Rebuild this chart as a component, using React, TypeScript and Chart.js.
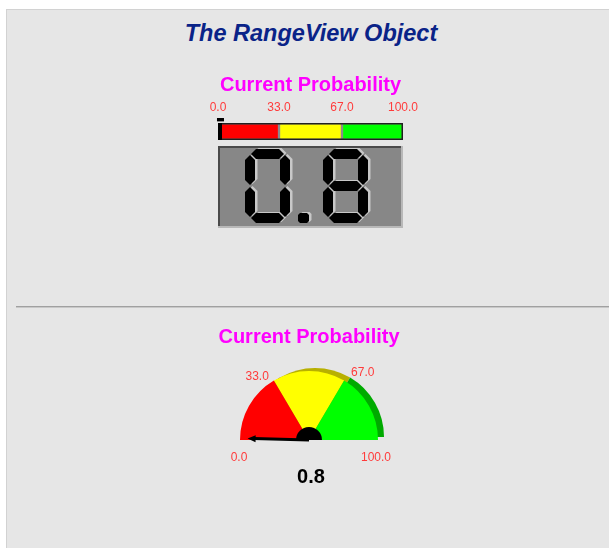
import React, { useEffect, useRef } from "react";
import { Chart, registerables } from "chart.js";

Chart.register(...registerables);

// ---- data ----
const MAIN_TITLE = "The RangeView Object";
const CHART_TITLE = "Current Probability";
const RANGE_LABELS = ["Low", "Medium", "High"];
const RANGE_VALUES = [33, 34, 33];
const RANGE_COLORS = ["#ff0000", "#ffff00", "#00ff00"];
const RANGE_SHADOWS = ["#a80000", "#b8b000", "#00aa00"];
const TICK_VALUES = [0, 33, 67, 100];
const CURRENT_VALUE = 0.8;
const SCALE_MIN = 0;
const SCALE_MAX = 100;

const FONT = "'Liberation Sans', Arial, sans-serif";
const TICK_COLOR = "#ff3b3b";

// seven segment map: a b c d e f g
const SEGMENTS: Record<string, number[]> = {
  "0": [1, 1, 1, 1, 1, 1, 0],
  "1": [0, 1, 1, 0, 0, 0, 0],
  "2": [1, 1, 0, 1, 1, 0, 1],
  "3": [1, 1, 1, 1, 0, 0, 1],
  "4": [0, 1, 1, 0, 0, 1, 1],
  "5": [1, 0, 1, 1, 0, 1, 1],
  "6": [1, 0, 1, 1, 1, 1, 1],
  "7": [1, 1, 1, 0, 0, 0, 0],
  "8": [1, 1, 1, 1, 1, 1, 1],
  "9": [1, 1, 1, 1, 0, 1, 1],
};

function hSeg(ctx: CanvasRenderingContext2D, x1: number, x2: number, y: number, t: number) {
  const h = t / 2;
  ctx.beginPath();
  ctx.moveTo(x1, y);
  ctx.lineTo(x1 + h, y - h);
  ctx.lineTo(x2 - h, y - h);
  ctx.lineTo(x2, y);
  ctx.lineTo(x2 - h, y + h);
  ctx.lineTo(x1 + h, y + h);
  ctx.closePath();
  ctx.fill();
}
function vSeg(ctx: CanvasRenderingContext2D, x: number, y1: number, y2: number, t: number) {
  const h = t / 2;
  ctx.beginPath();
  ctx.moveTo(x, y1);
  ctx.lineTo(x + h, y1 + h);
  ctx.lineTo(x + h, y2 - h);
  ctx.lineTo(x, y2);
  ctx.lineTo(x - h, y2 - h);
  ctx.lineTo(x - h, y1 + h);
  ctx.closePath();
  ctx.fill();
}
function drawDigit(ctx: CanvasRenderingContext2D, ch: string, L: number, T: number, W: number, H: number, t: number) {
  const s = SEGMENTS[ch];
  if (!s) return;
  const g = 1;
  const xl = L + t / 2, xr = L + W - t / 2;
  const yt = T + t / 2, ym = T + H / 2, yb = T + H - t / 2;
  if (s[0]) hSeg(ctx, xl + g, xr - g, yt, t);
  if (s[1]) vSeg(ctx, xr, yt + g, ym - g, t);
  if (s[2]) vSeg(ctx, xr, ym + g, yb - g, t);
  if (s[3]) hSeg(ctx, xl + g, xr - g, yb, t);
  if (s[4]) vSeg(ctx, xl, ym + g, yb - g, t);
  if (s[5]) vSeg(ctx, xl, yt + g, ym - g, t);
  if (s[6]) hSeg(ctx, xl + g, xr - g, ym, t);
}

const barDecor = {
  id: "barDecor",
  afterDatasetsDraw(chart: any) {
    const { ctx, chartArea } = chart;
    const xs = chart.scales.x;
    const L = chartArea.left, R = chartArea.right, T = chartArea.top, B = chartArea.bottom;
    ctx.save();
    // outer frame
    ctx.strokeStyle = "#202020";
    ctx.lineWidth = 1.5;
    ctx.strokeRect(L + 0.75, T + 0.75, R - L - 1.5, B - T - 1.5);
    // indicator
    const px = xs.getPixelForValue(CURRENT_VALUE);
    ctx.fillStyle = "#000";
    ctx.fillRect(L, T, Math.max(px - L, 4), B - T);
    ctx.fillStyle = "#000";
    ctx.fillRect(px - 2.5, T - 5, 7, 3);
    ctx.fillStyle = "#909090";
    ctx.fillRect(px - 2.5, T - 2, 7, 1);

    // digital display
    const bT = B + 6, bH = 82;
    ctx.fillStyle = "#878787";
    ctx.fillRect(L, bT, R - L, bH);
    ctx.fillStyle = "#4a4a4a";
    ctx.fillRect(L, bT, R - L, 2);
    ctx.fillRect(L, bT, 2, bH);
    ctx.fillStyle = "#b8b8b8";
    ctx.fillRect(L, bT + bH - 2, R - L, 2);
    ctx.fillRect(R - 2, bT, 2, bH);

    const text = CURRENT_VALUE.toFixed(1);
    const dW = 45, dH = 74, t = 10, dotW = 11;
    let total = 0;
    for (const ch of text) total += ch === "." ? dotW + 22 : dW;
    let x = (L + R) / 2 - total / 2 - 4;
    const dy = bT + 3;
    const drawAll = (ox: number, oy: number, color: string) => {
      ctx.fillStyle = color;
      let xx = x + ox;
      for (const ch of text) {
        if (ch === ".") {
          const dx = xx + 8;
          const yy = dy + dH - 10 + oy;
          ctx.beginPath();
          ctx.moveTo(dx + 2, yy);
          ctx.lineTo(dx + dotW - 2, yy);
          ctx.lineTo(dx + dotW, yy + 2);
          ctx.lineTo(dx + dotW, yy + 8);
          ctx.lineTo(dx + dotW - 2, yy + 10);
          ctx.lineTo(dx + 2, yy + 10);
          ctx.lineTo(dx, yy + 8);
          ctx.lineTo(dx, yy + 2);
          ctx.closePath();
          ctx.fill();
          xx += dotW + 22;
        } else {
          drawDigit(ctx, ch, xx, dy + oy, dW, dH, t);
          xx += dW;
        }
      }
    };
    drawAll(2.5, -1, "#c8c8c8");
    drawAll(0, 0, "#000000");
    ctx.restore();
  },
};

const gaugeDecor = {
  id: "gaugeDecor",
  beforeDatasetsDraw(chart: any) {
    const { ctx } = chart;
    const meta = chart.getDatasetMeta(0);
    ctx.save();
    meta.data.forEach((arc: any, i: number) => {
      const { x, y, startAngle, endAngle, outerRadius } = arc.getProps(["x", "y", "startAngle", "endAngle", "outerRadius"], true);
      ctx.fillStyle = RANGE_SHADOWS[i];
      ctx.beginPath();
      ctx.moveTo(x + 6, y - 3);
      ctx.arc(x + 6, y - 3, outerRadius, startAngle, endAngle);
      ctx.closePath();
      ctx.fill();
    });
    ctx.restore();
  },
  afterDatasetsDraw(chart: any) {
    const { ctx } = chart;
    const meta = chart.getDatasetMeta(0);
    const arc0 = meta.data[0];
    if (!arc0) return;
    const { x: cx, y: cy, outerRadius: r } = arc0.getProps(["x", "y", "outerRadius"], true);
    const angOf = (v: number) => Math.PI + ((v - SCALE_MIN) / (SCALE_MAX - SCALE_MIN)) * Math.PI;
    ctx.save();
    // tick labels
    ctx.font = `12px ${FONT}`;
    ctx.fillStyle = TICK_COLOR;
    TICK_VALUES.forEach((v) => {
      const a = angOf(v);
      const px = cx + r * Math.cos(a);
      const py = cy + r * Math.sin(a);
      const label = v.toFixed(1);
      if (v === SCALE_MIN || v === SCALE_MAX) {
        ctx.textAlign = "center";
        ctx.textBaseline = "middle";
        ctx.fillText(label, px + (v === SCALE_MAX ? -2 : -1), cy + 18);
      } else if (v < (SCALE_MIN + SCALE_MAX) / 2) {
        ctx.textAlign = "right";
        ctx.textBaseline = "alphabetic";
        ctx.fillText(label, px - 5, py - 1);
      } else {
        ctx.textAlign = "left";
        ctx.textBaseline = "alphabetic";
        ctx.fillText(label, px + 7, py - 5);
      }
    });
    // needle
    const a = angOf(CURRENT_VALUE);
    const len = r * 0.89;
    const tx = cx + len * Math.cos(a);
    const ty = cy + len * Math.sin(a);
    ctx.strokeStyle = "#000";
    ctx.lineWidth = 3;
    ctx.beginPath();
    ctx.moveTo(cx, cy);
    ctx.lineTo(tx - 6 * Math.cos(a), ty - 6 * Math.sin(a));
    ctx.stroke();
    const nx = -Math.sin(a), ny = Math.cos(a);
    ctx.fillStyle = "#000";
    ctx.beginPath();
    ctx.moveTo(tx, ty);
    ctx.lineTo(tx - 8 * Math.cos(a) + 3.5 * nx, ty - 8 * Math.sin(a) + 3.5 * ny);
    ctx.lineTo(tx - 8 * Math.cos(a) - 3.5 * nx, ty - 8 * Math.sin(a) - 3.5 * ny);
    ctx.closePath();
    ctx.fill();
    // hub
    ctx.beginPath();
    ctx.moveTo(cx - 13, cy);
    ctx.arc(cx, cy, 13, Math.PI, 2 * Math.PI);
    ctx.closePath();
    ctx.fill();
    // value
    ctx.font = `bold 20px ${FONT}`;
    ctx.fillStyle = "#000";
    ctx.textAlign = "center";
    ctx.textBaseline = "middle";
    ctx.fillText(CURRENT_VALUE.toFixed(1), cx + 2, cy + 37);
    ctx.restore();
  },
};

const titleOpts = (top: number, bottom: number) => ({
  display: true,
  text: CHART_TITLE,
  color: "#ff00ff",
  font: { family: FONT, size: 20, weight: "bold" as const, lineHeight: 1.2 },
  padding: { top, bottom },
});

export default function App() {
  const barRef = useRef<HTMLCanvasElement | null>(null);
  const gaugeRef = useRef<HTMLCanvasElement | null>(null);

  useEffect(() => {
    const bar = new Chart(barRef.current!, {
      type: "bar",
      data: {
        labels: [CHART_TITLE],
        datasets: RANGE_LABELS.map((l, i) => ({
          label: l,
          data: [RANGE_VALUES[i]],
          backgroundColor: RANGE_COLORS[i],
          borderColor: "#8c8c8c",
          borderWidth: 1.5,
          borderSkipped: false,
          categoryPercentage: 1,
          barPercentage: 1,
        })),
      },
      options: {
        indexAxis: "y",
        animation: false,
        responsive: false,
        maintainAspectRatio: false,
        layout: { padding: { left: 38, right: 37, top: 0, bottom: 95 } },
        plugins: {
          legend: { display: false },
          tooltip: { enabled: false },
          title: titleOpts(3, 3),
        },
        scales: {
          x: {
            type: "linear",
            position: "top",
            stacked: true,
            min: SCALE_MIN,
            max: SCALE_MAX,
            afterBuildTicks: (s: any) => {
              s.ticks = TICK_VALUES.map((v) => ({ value: v }));
            },
            afterFit: (s: any) => {
              s.height = 23;
            },
            grid: { display: false, drawTicks: false },
            border: { display: false },
            ticks: {
              autoSkip: false,
              maxRotation: 0,
              padding: 8,
              color: TICK_COLOR,
              font: { family: FONT, size: 12 },
              callback: (v: any) => Number(v).toFixed(1),
            },
          },
          y: { stacked: true, display: false },
        },
      },
      plugins: [barDecor],
    } as any);

    const gauge = new Chart(gaugeRef.current!, {
      type: "doughnut",
      data: {
        labels: RANGE_LABELS,
        datasets: [
          {
            data: RANGE_VALUES,
            backgroundColor: RANGE_COLORS,
            borderWidth: 0,
          },
        ],
      },
      options: {
        animation: false,
        responsive: false,
        maintainAspectRatio: false,
        rotation: -90,
        circumference: 180,
        cutout: 0,
        layout: { padding: { left: 0, right: 0, top: 0, bottom: 55 } },
        plugins: {
          legend: { display: false },
          tooltip: { enabled: false },
          title: titleOpts(7, 22),
        },
      },
      plugins: [gaugeDecor],
    } as any);

    return () => {
      bar.destroy();
      gauge.destroy();
    };
  }, []);

  return (
    <div style={{ position: "absolute", left: 0, top: 0, width: 609, height: 548, background: "#ffffff", overflow: "hidden" }}>
      <div
        style={{
          position: "absolute",
          left: 6,
          top: 9,
          width: 610,
          height: 545,
          background: "#e6e6e6",
          borderLeft: "1px solid #d2d2d2",
          borderTop: "1px solid #d2d2d2",
        }}
      />
      <div
        style={{
          position: "absolute",
          left: 0,
          top: 20,
          width: 622,
          textAlign: "center",
          fontFamily: FONT,
          fontWeight: "bold",
          fontStyle: "italic",
          fontSize: 23.5,
          lineHeight: "26px",
          color: "#0a2388",
        }}
      >
        {MAIN_TITLE}
      </div>
      <div style={{ position: "absolute", left: 16, top: 306, width: 600, height: 1, background: "#a0a0a0" }} />
      <div style={{ position: "absolute", left: 16, top: 307, width: 600, height: 1, background: "#c8c8c8" }} />
      <canvas
        ref={barRef}
        width={260}
        height={165}
        style={{ position: "absolute", left: 180, top: 70, width: 260, height: 165 }}
      />
      <canvas
        ref={gaugeRef}
        width={260}
        height={177}
        style={{ position: "absolute", left: 179, top: 318, width: 260, height: 177 }}
      />
    </div>
  );
}
